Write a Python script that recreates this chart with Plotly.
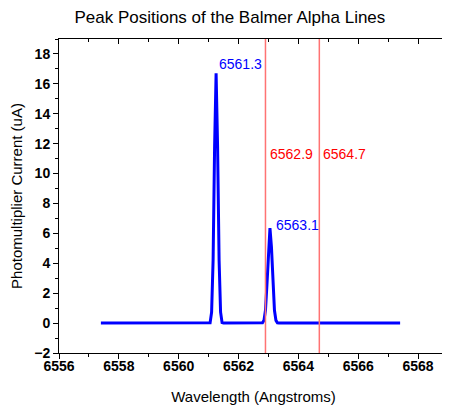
import plotly.graph_objects as go

# spectrum (wavelength in Angstroms, current in uA)
wavelength = [6557.4, 6558.0, 6559.0, 6560.0, 6560.8, 6561.0, 6561.05, 6561.10,
              6561.15, 6561.20, 6561.25, 6561.30, 6561.35, 6561.40, 6561.45,
              6561.50, 6562.0, 6562.5, 6562.75, 6562.80, 6562.85, 6562.90,
              6562.95, 6563.00, 6563.05, 6563.10, 6563.15, 6563.20, 6563.25,
              6563.30, 6563.35, 6563.5, 6564.0, 6565.0, 6566.0, 6567.0, 6567.4]
current = [0, 0, 0, 0, 0, 0, 0.03, 0.73,
           4.2, 11.8, 16.7, 11.8, 4.2, 0.73, 0.03,
           0, 0, 0, 0, 0.02, 0.18, 0.86,
           2.61, 5.09, 6.35, 5.09, 2.61, 0.86, 0.18,
           0.02, 0, 0, 0, 0, 0, 0, 0]

ref_lines = [6562.9, 6564.7]
ref_labels = ["6562.9", "6564.7"]
peak_x = [6561.27, 6563.17]
peak_y = [17.35, 6.53]
peak_labels = ["6561.3", "6563.1"]

FONT = "Liberation Sans, Arial, sans-serif"

fig = go.Figure()
fig.add_trace(go.Scatter(x=wavelength, y=current, mode="lines",
                         line=dict(color="#0000ff", width=3),
                         showlegend=False, hoverinfo="skip"))
# invisible trace to hold the mirrored (inward tick) axes
fig.add_trace(go.Scatter(x=[6556], y=[0], xaxis="x2", yaxis="y2",
                         mode="markers", marker=dict(opacity=0),
                         showlegend=False, hoverinfo="skip"))

for xv, lab in zip(ref_lines, ref_labels):
    fig.add_vline(x=xv, line=dict(color="#ff7373", width=1.5))
    fig.add_annotation(x=xv + 0.07, y=11.33, text=lab, showarrow=False,
                       xanchor="left", yanchor="middle",
                       font=dict(color="#ff0000", size=14, family=FONT))

for xv, yv, lab in zip(peak_x, peak_y, peak_labels):
    fig.add_annotation(x=xv, y=yv, text=lab, showarrow=False,
                       xanchor="left", yanchor="middle",
                       font=dict(color="#0000ff", size=14, family=FONT))

tick_font = dict(family=FONT, size=14, color="black", weight="bold")
x_range = [6556, 6569]
y_range = [-2, 19]

# page body has an 8px margin, so the figure is 8px smaller than the window
fig.update_layout(
    width=442, height=402,
    margin=dict(l=51, r=2, t=31, b=57, autoexpand=False),
    paper_bgcolor="white", plot_bgcolor="white",
    font=dict(family=FONT, color="black"),
    title=dict(text="Peak Positions of the Balmer Alpha Lines",
               x=0.502, xanchor="center", y=0.978, yanchor="middle",
               font=dict(size=17, family=FONT, color="black")),
    xaxis=dict(range=x_range, tickmode="linear", tick0=6556, dtick=2,
               ticks="outside", ticklen=5, tickwidth=1, tickcolor="black",
               minor=dict(dtick=1, ticks="outside", ticklen=3, tickcolor="black"),
               showline=True, linecolor="black", linewidth=1, mirror=True,
               showgrid=False, zeroline=False, tickfont=tick_font,
               automargin=False, ticklabelstandoff=-5,
               title=dict(text="Wavelength (Angstroms)", standoff=18,
                          font=dict(size=15, family=FONT))),
    yaxis=dict(range=y_range, tickmode="linear", tick0=0, dtick=2,
               ticks="outside", ticklen=5, tickwidth=1, tickcolor="black",
               minor=dict(dtick=1, ticks="outside", ticklen=3, tickcolor="black"),
               showline=True, linecolor="black", linewidth=1, mirror=True,
               showgrid=False, zeroline=False, tickfont=tick_font,
               automargin=False,
               title=dict(text="Photomultiplier Current (uA)", standoff=16,
                          font=dict(size=15, family=FONT))),
    xaxis2=dict(range=x_range, overlaying="x", side="top", anchor="y2",
                tickmode="linear", tick0=6556, dtick=2,
                ticks="inside", ticklen=5, tickcolor="black",
                minor=dict(dtick=1, ticks="inside", ticklen=3, tickcolor="black"),
                showticklabels=False, showgrid=False, zeroline=False,
                automargin=False),
    yaxis2=dict(range=y_range, overlaying="y", side="right", anchor="x2",
                tickmode="linear", tick0=0, dtick=2,
                ticks="inside", ticklen=5, tickcolor="black",
                minor=dict(dtick=1, ticks="inside", ticklen=3, tickcolor="black"),
                showticklabels=False, showgrid=False, zeroline=False,
                automargin=False),
)

fig.write_html("out.html")
